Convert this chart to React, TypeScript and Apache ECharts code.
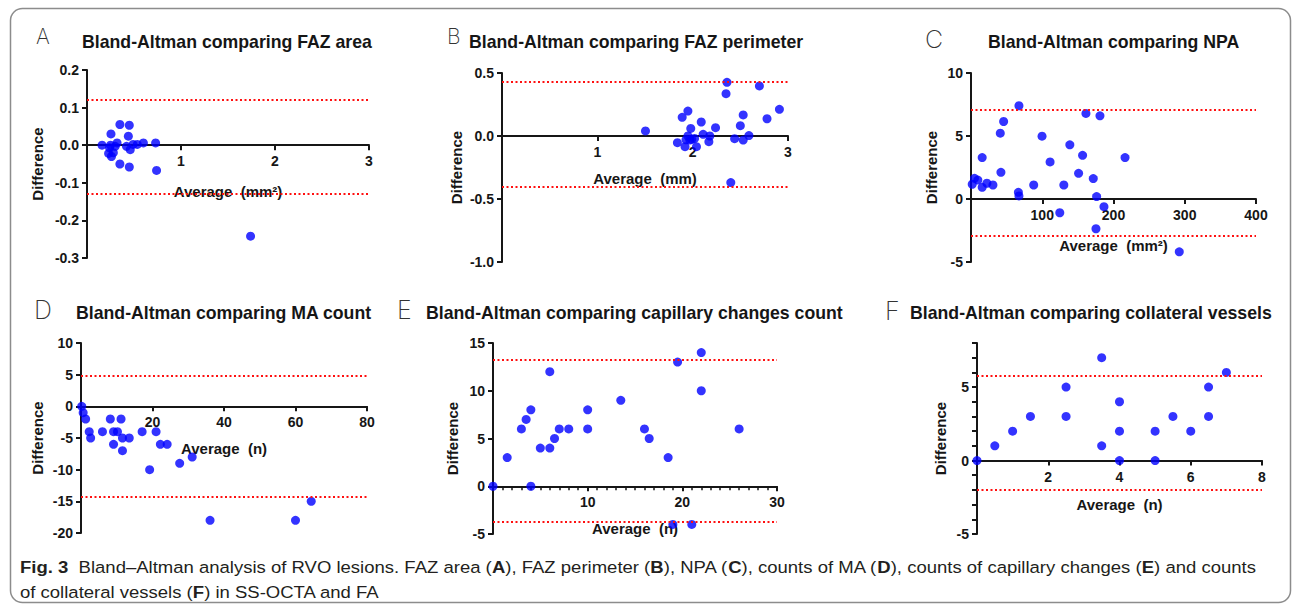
import React, { useEffect, useRef } from 'react';
import * as echarts from 'echarts';

// ---------- DATA ----------
// A: FAZ area
const faAreaAvg = [0.16, 0.255, 0.25, 0.24, 0.26, 0.23, 0.28, 0.30, 0.32, 0.35, 0.45, 0.44, 0.42, 0.46, 0.49, 0.535, 0.60, 0.73, 0.35, 0.45, 0.74, 1.74];
const faAreaDiff = [0.0, 0.03, 0.0, -0.007, -0.03, -0.022, -0.02, -0.003, 0.006, 0.055, 0.053, 0.024, -0.003, -0.012, 0.002, 0.002, 0.006, 0.006, -0.05, -0.058, -0.067, -0.242];
const faAreaLimits = [0.12, -0.128];

// B: FAZ perimeter
const faPerimAvg = [1.505, 1.84, 1.89, 1.92, 1.95, 1.95, 1.98, 1.97, 1.93, 1.99, 2.02, 2.04, 2.09, 2.11, 2.17, 2.18, 2.24, 2.36, 2.35, 2.40, 2.44, 2.50, 2.53, 2.53, 2.59, 2.70, 2.78, 2.91];
const faPerimDiff = [0.04, -0.053, 0.148, -0.085, 0.198, 0.0, 0.06, -0.032, -0.03, -0.026, -0.02, -0.085, 0.111, 0.013, -0.045, 0.0, 0.066, 0.426, 0.336, -0.37, -0.021, 0.082, 0.167, -0.032, 0.003, 0.397, 0.137, 0.212];
const faPerimLimits = [0.435, -0.4];

// C: NPA
const npaAvg = [1.7, 4.9, 9.6, 15.7, 15.7, 22.3, 30.8, 41.1, 45.8, 42.0, 67.3, 66.5, 67.3, 88.0, 99.7, 111, 124.6, 130.3, 138.7, 151, 156.6, 161.3, 171.6, 176.3, 175.4, 181, 186.6, 216.2, 292.3];
const npaDiff = [1.17, 1.64, 1.5, 0.93, 3.29, 1.25, 1.11, 5.22, 6.15, 2.12, 7.4, 0.53, 0.24, 1.11, 4.99, 2.94, -1.09, 1.11, 4.3, 2.04, 3.47, 6.79, 1.62, 0.19, -2.36, 6.6, -0.61, 3.29, -4.19];
const npaLimits = [7.05, -2.93];

// D: MA count
const maAvg = [0.2, 0.6, 1.3, 2.3, 2.7, 6.0, 8.2, 9.1, 9.1, 10.2, 11.2, 11.6, 11.6, 13.5, 17.1, 19.2, 21.0, 22.2, 24.1, 27.6, 31.1, 36.1, 60.0, 64.4];
const maDiff = [0, -1, -2, -4, -5, -4, -2, -4, -6, -4, -2, -5, -7, -5, -4, -10, -4, -6, -6, -9, -8, -18, -18, -15];
const maLimits = [4.8, -14.2];

// E: capillary changes count
const capAvg = [0, 1.5, 3, 3.5, 4, 4, 5, 6, 6, 6.5, 7, 8, 10, 10, 13.5, 16, 16.5, 18.5, 19.5, 22, 22, 26, 19, 21];
const capDiff = [0, 3, 6, 7, 8, 0, 4, 12, 4, 5, 6, 6, 8, 6, 9, 6, 5, 3, 13, 14, 10, 6, -4, -4];
const capLimits = [13.2, -3.7];

// F: collateral vessels
const colAvg = [0, 0.5, 1, 1.5, 2.5, 2.5, 3.5, 3.5, 4, 4, 4, 5, 5, 5.5, 6, 6.5, 6.5, 7];
const colDiff = [0, 1, 2, 3, 5, 3, 7, 1, 4, 2, 0, 2, 0, 3, 2, 5, 3, 6];
const colLimits = [5.75, -2.0];

const panelLetters = ['A', 'B', 'C', 'D', 'E', 'F'];
const panelTitles = [
  'Bland-Altman comparing FAZ area',
  'Bland-Altman comparing FAZ perimeter',
  'Bland-Altman comparing NPA',
  'Bland-Altman comparing MA count',
  'Bland-Altman comparing capillary changes count',
  'Bland-Altman comparing collateral vessels',
];
const xNames = ['Average  (mm²)', 'Average  (mm)', 'Average  (mm²)', 'Average  (n)', 'Average  (n)', 'Average  (n)'];
const yName = 'Difference';
// axis ranges [min, max, interval]
const xRanges = [[0, 3, 1], [0, 3, 1], [0, 400, 100], [0, 80, 20], [0, 30, 10], [0, 8, 2]];
const yRanges = [[-0.3, 0.2, 0.1], [-1, 0.5, 0.5], [-5, 10, 5], [-20, 10, 5], [-5, 15, 5], [-5, 8, 1]];

const captionSegments: [string, boolean][] = [
  ['Fig. 3', true],
  ['  Bland–Altman analysis of RVO lesions. FAZ area (', false], ['A', true],
  ['), FAZ perimeter (', false], ['B', true],
  ['), NPA (', false], ['C', true],
  ['), counts of MA (', false], ['D', true],
  ['), counts of capillary changes (', false], ['E', true],
  [') and counts', false],
];
const captionSegments2: [string, boolean][] = [
  ['of collateral vessels (', false], ['F', true], [') in SS-OCTA and FA', false],
];

// ---------- LAYOUT / STYLE ----------
const grids = [
  { left: 87, top: 70, width: 282, height: 188 },
  { left: 502, top: 73, width: 286, height: 189 },
  { left: 971, top: 73, width: 285, height: 189 },
  { left: 81, top: 343, width: 286, height: 190 },
  { left: 493, top: 343, width: 284, height: 191 },
  { left: 977, top: 343, width: 285, height: 191 },
];
const titlePos = [[82, 42], [469, 42], [988, 42], [76, 313], [426, 313], [910, 313]];
const letterPos = [[36, 36, 21], [447, 36, 21], [925, 39, 25], [34, 310, 25], [397, 310, 25], [885, 311, 25]];
const xNameGaps = [39, 35, 39, 35, 35, 36];
const yNameGaps = [42, 38, 32, 36, 33, 29];

const FONT = '"Liberation Sans", Arial, sans-serif';
const INK = '#161616';
const BLUE = '#0000ff';

function richText(segs: [string, boolean][]) {
  return segs.map(([t, b]) => (b ? `{b|${t}}` : t)).join('');
}
function measure(segs: [string, boolean][], size: number, family: string) {
  const ctx = document.createElement('canvas').getContext('2d');
  if (!ctx) return 1;
  let w = 0;
  for (const [t, b] of segs) {
    ctx.font = `${b ? 'bold ' : ''}${size}px ${family}`;
    w += ctx.measureText(t).width;
  }
  return w;
}

export default function App() {
  const ref = useRef<HTMLDivElement>(null);
  useEffect(() => {
    document.body.style.margin = '0';
    if (!ref.current) return;
    const chart = echarts.init(ref.current, undefined, { renderer: 'svg' });

    const avgs = [faAreaAvg, faPerimAvg, npaAvg, maAvg, capAvg, colAvg];
    const diffs = [faAreaDiff, faPerimDiff, npaDiff, maDiff, capDiff, colDiff];
    const limits = [faAreaLimits, faPerimLimits, npaLimits, maLimits, capLimits, colLimits];

    const axisLineStyle = { color: INK, width: 2 };
    const labelStyle = { color: INK, fontWeight: 'bold' as const, fontSize: 14, fontFamily: FONT };
    const nameStyle = { color: INK, fontWeight: 'bold' as const, fontSize: 15, fontFamily: FONT };

    const xAxis = grids.map((g, i) => {
      const [ymin, ymax] = yRanges[i];
      // place the x axis on the y = 0 line of its plot
      const zeroOffset = -g.height * (0 - ymin) / (ymax - ymin);
      return {
        gridIndex: i,
        type: 'value',
        position: 'bottom',
        offset: zeroOffset,
        min: xRanges[i][0], max: xRanges[i][1], interval: xRanges[i][2],
        z: 2,
        axisLine: { onZero: false, lineStyle: axisLineStyle },
        axisTick: { show: true, length: 5, lineStyle: { color: INK, width: 2 } },
        minorTick: i === 4 ? { show: true, splitNumber: 10, length: 4, lineStyle: { color: INK, width: 1.5 } } : { show: false },
        axisLabel: { ...labelStyle, margin: 9, formatter: (v: number) => (v === 0 ? '' : String(v)) },
        splitLine: { show: false },
        name: xNames[i], nameLocation: 'middle', nameGap: xNameGaps[i], nameTextStyle: nameStyle,
      };
    });

    const yAxis = grids.map((_, i) => ({
      gridIndex: i,
      type: 'value',
      min: yRanges[i][0], max: yRanges[i][1], interval: yRanges[i][2],
      z: 2,
      axisLine: { show: true, onZero: false, lineStyle: axisLineStyle },
      axisTick: { show: true, length: 5, lineStyle: { color: INK, width: 2 } },
      axisLabel: {
        ...labelStyle, margin: 8,
        formatter: (v: number) => {
          if (i <= 1) return Math.abs(v) < 1e-9 ? '0.0' : v.toFixed(1);
          if (i === 5) return Math.round(v) % 5 === 0 ? String(Math.round(v)) : '';
          return String(v);
        },
      },
      splitLine: { show: false },
      name: yName, nameLocation: 'middle', nameGap: yNameGaps[i], nameRotate: 90, nameTextStyle: nameStyle,
    }));

    const series: any[] = [];
    grids.forEach((_, i) => {
      series.push({
        type: 'line', xAxisIndex: i, yAxisIndex: i, data: [], z: 1, silent: true,
        markLine: {
          silent: true, symbol: 'none', label: { show: false },
          lineStyle: { color: '#ff1010', type: [2, 2.5], width: 2.2 },
          data: limits[i].map((v) => ({ yAxis: v })),
        },
      });
      series.push({
        type: 'scatter', xAxisIndex: i, yAxisIndex: i, z: 3,
        symbol: 'circle', symbolSize: 9,
        itemStyle: { color: BLUE },
        data: avgs[i].map((a, j) => [a, diffs[i][j]]),
      });
    });

    const capSize = 17;
    const capFamily = '"Liberation Sans", Arial, sans-serif';
    const w1 = measure(captionSegments, capSize, capFamily);
    const capScale = 1236 / w1;

    const graphic: any[] = [
      {
        type: 'rect', z: 0,
        shape: { x: 10.5, y: 8.5, width: 1280, height: 594, r: 12 },
        style: { fill: 'none', stroke: '#8c8c8c', lineWidth: 1.5 },
      },
    ];
    panelTitles.forEach((t, i) => {
      graphic.push({
        type: 'text', x: titlePos[i][0], y: titlePos[i][1],
        style: { text: t, fill: INK, font: `bold 17.7px ${FONT}`, align: 'left', verticalAlign: 'middle' },
      });
      graphic.push({
        type: 'text', x: letterPos[i][0], y: letterPos[i][1],
        style: { text: panelLetters[i], fill: '#333', font: `200 ${letterPos[i][2]}px Inter, "DejaVu Sans", sans-serif`, align: 'left', verticalAlign: 'middle' },
      });
    });
    const capRich = { b: { fontWeight: 'bold', fontSize: capSize, fontFamily: capFamily, fill: '#231f20' } };
    graphic.push({
      type: 'text', x: 20, y: 567, scaleX: capScale,
      style: { text: richText(captionSegments), fill: '#231f20', fontSize: capSize, fontFamily: capFamily, align: 'left', verticalAlign: 'middle', rich: capRich },
    });
    graphic.push({
      type: 'text', x: 20, y: 592, scaleX: capScale,
      style: { text: richText(captionSegments2), fill: '#231f20', fontSize: capSize, fontFamily: capFamily, align: 'left', verticalAlign: 'middle', rich: capRich },
    });

    chart.setOption({
      animation: false,
      backgroundColor: '#ffffff',
      grid: grids.map((g) => ({ ...g, containLabel: false })),
      xAxis,
      yAxis,
      series,
      graphic,
    });
    return () => chart.dispose();
  }, []);
  return <div ref={ref} style={{ width: 1293, height: 605 }} />;
}
